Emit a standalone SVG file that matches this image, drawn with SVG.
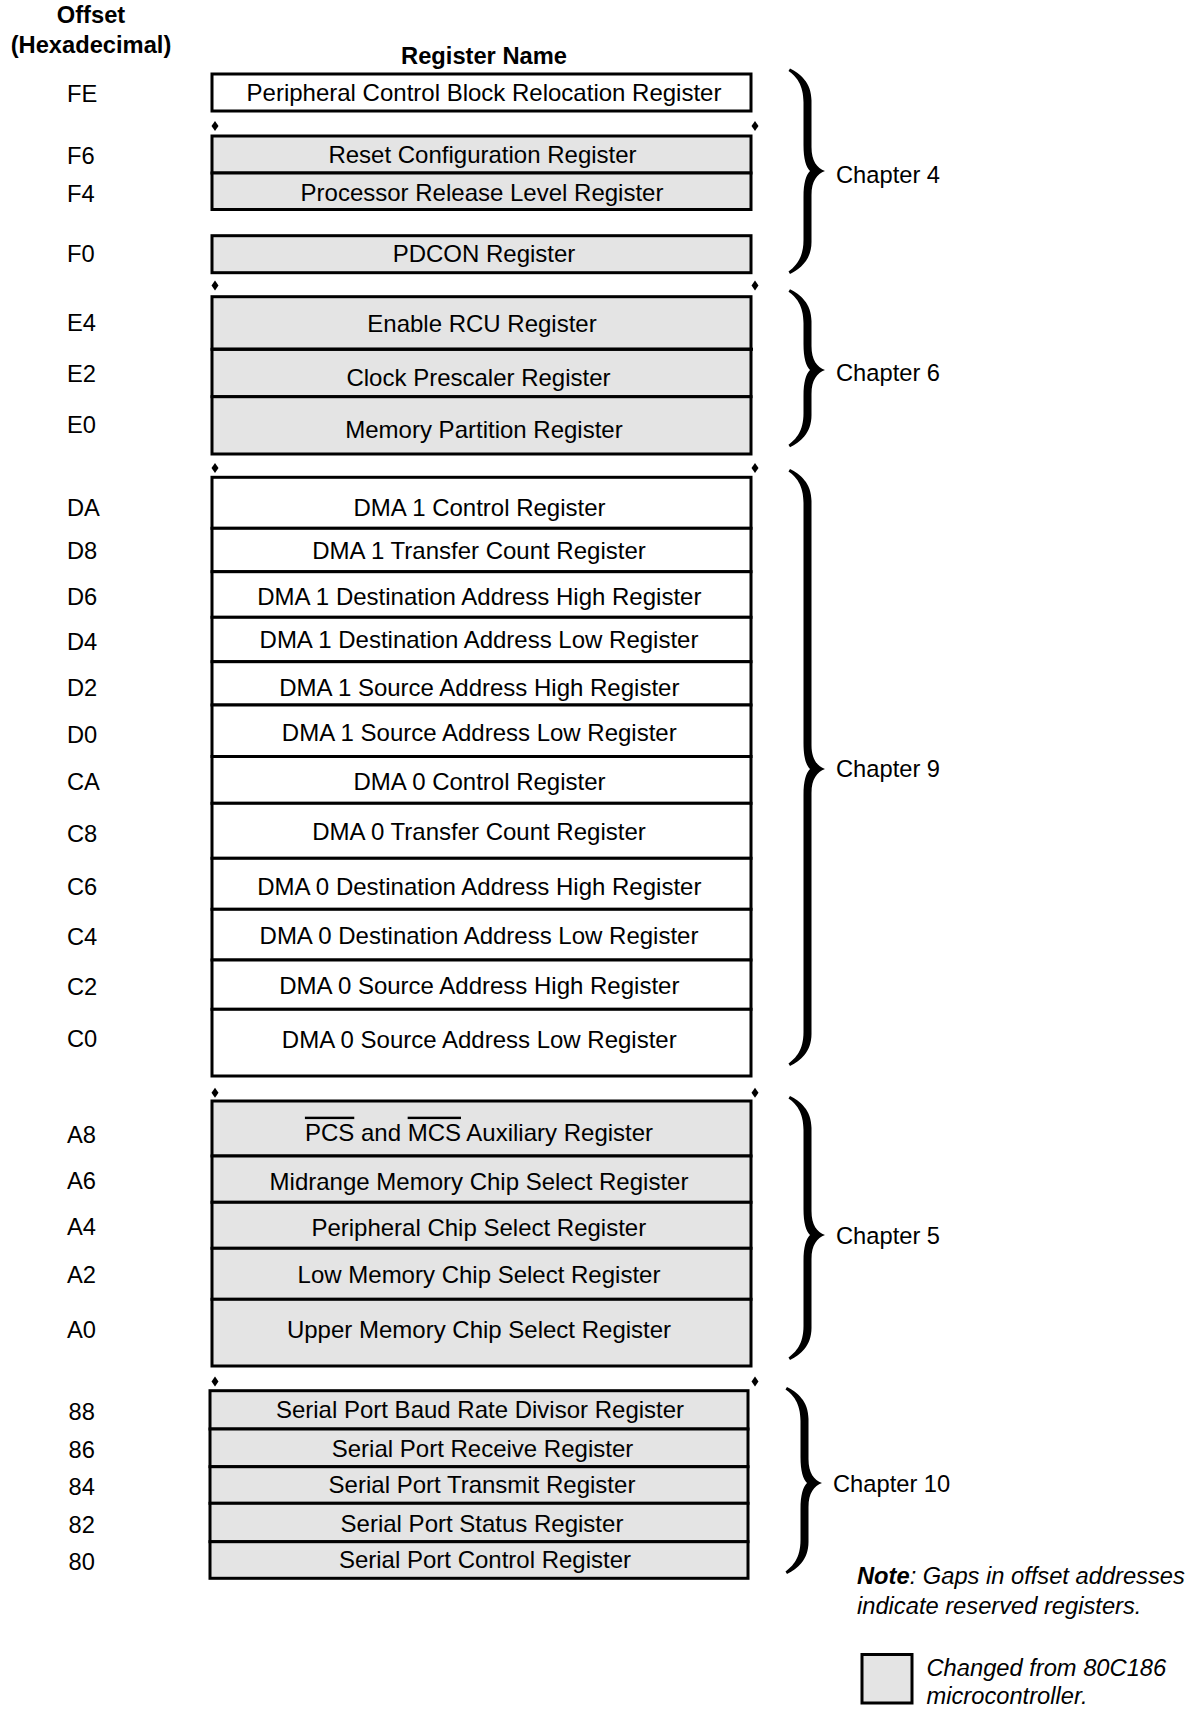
<svg xmlns="http://www.w3.org/2000/svg" width="1196" height="1710" viewBox="0 0 1196 1710">
<style>
.reg{stroke:#000;stroke-width:3}
.g{fill:#e4e4e4}
.w{fill:#fff}
text{font-family:"Liberation Sans",Arial,Helvetica,sans-serif;font-size:23.7px;fill:#000}
.r{font-size:24px}
.c{text-anchor:middle}
.b{font-weight:bold}
.i{font-style:italic}
.ov{text-decoration:overline}
.brace{fill:#000}
.dot{fill:#000}
</style>
<defs>
<path id="dia" d="M0,-5 L3.5,0 L0,5 L-3.5,0 Z"/>
</defs>
<rect x="0" y="0" width="1196" height="1710" fill="#fff"/>

<g id="headings">
<text class="b c" x="91" y="23">Offset</text>
<text class="b c" x="91" y="53">(Hexadecimal)</text>
<text class="b c" x="484" y="63.5">Register Name</text>
</g>

<!-- Chapter 4 block -->
<g id="reg-FE"><rect class="reg w" x="212" y="74" width="539" height="37"/><text class="c r" x="484" y="101">Peripheral Control Block Relocation Register</text><text x="67" y="101.5">FE</text></g>
<g id="reg-F6"><rect class="reg g" x="212" y="136" width="539" height="37"/><text class="c r" x="482.5" y="162.7">Reset Configuration Register</text><text x="67" y="164">F6</text></g>
<g id="reg-F4"><rect class="reg g" x="212" y="173" width="539" height="36.5"/><text class="c r" x="482" y="201">Processor Release Level Register</text><text x="67" y="201.5">F4</text></g>
<g id="reg-F0"><rect class="reg g" x="212" y="235.7" width="539" height="37"/><text class="c r" x="484" y="262">PDCON Register</text><text x="67" y="262">F0</text></g>

<!-- Chapter 6 block -->
<g id="reg-E4"><rect class="reg g" x="212" y="296.7" width="539" height="52.6"/><text class="c r" x="482" y="331.7">Enable RCU Register</text><text x="67" y="331">E4</text></g>
<g id="reg-E2"><rect class="reg g" x="212" y="349.3" width="539" height="47.4"/><line x1="212" y1="349.3" x2="753" y2="349.3" stroke="#000" stroke-width="3"/><text class="c r" x="478.5" y="386">Clock Prescaler Register</text><text x="67" y="382.4">E2</text></g>
<g id="reg-E0"><rect class="reg g" x="212" y="396.7" width="539" height="57.3"/><text class="c r" x="484" y="437.7">Memory Partition Register</text><text x="67" y="432.6">E0</text></g>

<!-- Chapter 9 block -->
<g id="reg-DA"><rect class="reg w" x="212" y="477.3" width="539" height="51"/><text class="c r" x="479.5" y="516">DMA 1 Control Register</text><text x="67" y="516">DA</text></g>
<g id="reg-D8"><rect class="reg w" x="212" y="528.3" width="539" height="43.4"/><text class="c r" x="479" y="559">DMA 1 Transfer Count Register</text><text x="67" y="559">D8</text></g>
<g id="reg-D6"><rect class="reg w" x="212" y="571.7" width="539" height="45.6"/><text class="c r" x="479.3" y="605">DMA 1 Destination Address High Register</text><text x="67" y="605">D6</text></g>
<g id="reg-D4"><rect class="reg w" x="212" y="617.3" width="539" height="44.4"/><text class="c r" x="479" y="648">DMA 1 Destination Address Low Register</text><text x="67" y="650">D4</text></g>
<g id="reg-D2"><rect class="reg w" x="212" y="661.7" width="539" height="43.3"/><text class="c r" x="479.3" y="696">DMA 1 Source Address High Register</text><text x="67" y="696">D2</text></g>
<g id="reg-D0"><rect class="reg w" x="212" y="705" width="539" height="51.5"/><text class="c r" x="479.3" y="741">DMA 1 Source Address Low Register</text><text x="67" y="743">D0</text></g>
<g id="reg-CA"><rect class="reg w" x="212" y="756.5" width="539" height="46.8"/><text class="c r" x="479.5" y="790">DMA 0 Control Register</text><text x="67" y="790">CA</text></g>
<g id="reg-C8"><rect class="reg w" x="212" y="803.3" width="539" height="55"/><text class="c r" x="479" y="840">DMA 0 Transfer Count Register</text><text x="67" y="841.7">C8</text></g>
<g id="reg-C6"><rect class="reg w" x="212" y="858.3" width="539" height="51"/><text class="c r" x="479.3" y="895">DMA 0 Destination Address High Register</text><text x="67" y="895">C6</text></g>
<g id="reg-C4"><rect class="reg w" x="212" y="909.3" width="539" height="50.7"/><text class="c r" x="479" y="944">DMA 0 Destination Address Low Register</text><text x="67" y="945">C4</text></g>
<g id="reg-C2"><rect class="reg w" x="212" y="960" width="539" height="49.3"/><text class="c r" x="479.3" y="994">DMA 0 Source Address High Register</text><text x="67" y="995">C2</text></g>
<g id="reg-C0"><rect class="reg w" x="212" y="1009.3" width="539" height="66.7"/><text class="c r" x="479.3" y="1048">DMA 0 Source Address Low Register</text><text x="67" y="1046.7">C0</text></g>

<!-- Chapter 5 block -->
<g id="reg-A8"><rect class="reg g" x="212" y="1101" width="539" height="55"/><text class="c r" x="479" y="1140.7"><tspan class="ov">PCS</tspan> and <tspan class="ov">MCS</tspan> Auxiliary Register</text><text x="67" y="1142.7">A8</text></g>
<g id="reg-A6"><rect class="reg g" x="212" y="1156" width="539" height="46.3"/><text class="c r" x="479" y="1190">Midrange Memory Chip Select Register</text><text x="67" y="1189">A6</text></g>
<g id="reg-A4"><rect class="reg g" x="212" y="1202.3" width="539" height="46"/><text class="c r" x="478.8" y="1236">Peripheral Chip Select Register</text><text x="67" y="1235">A4</text></g>
<g id="reg-A2"><rect class="reg g" x="212" y="1248.3" width="539" height="51"/><text class="c r" x="479" y="1283">Low Memory Chip Select Register</text><text x="67" y="1283">A2</text></g>
<g id="reg-A0"><rect class="reg g" x="212" y="1299.3" width="539" height="66.7"/><text class="c r" x="479" y="1338">Upper Memory Chip Select Register</text><text x="67" y="1338">A0</text></g>

<!-- Chapter 10 block -->
<g id="reg-88"><rect class="reg g" x="210" y="1390.7" width="538" height="38.3"/><text class="c r" x="480" y="1418.3">Serial Port Baud Rate Divisor Register</text><text x="68.5" y="1420">88</text></g>
<g id="reg-86"><rect class="reg g" x="210" y="1429" width="538" height="37.7"/><text class="c r" x="482.5" y="1456.7">Serial Port Receive Register</text><text x="68.5" y="1458">86</text></g>
<g id="reg-84"><rect class="reg g" x="210" y="1466.7" width="538" height="36.6"/><text class="c r" x="482" y="1493">Serial Port Transmit Register</text><text x="68.5" y="1495">84</text></g>
<g id="reg-82"><rect class="reg g" x="210" y="1503.3" width="538" height="38.4"/><text class="c r" x="482" y="1531.7">Serial Port Status Register</text><text x="68.5" y="1533">82</text></g>
<g id="reg-80"><rect class="reg g" x="210" y="1541.7" width="538" height="36.6"/><text class="c r" x="485" y="1568.3">Serial Port Control Register</text><text x="68.5" y="1570">80</text></g>

<!-- gap markers -->
<g id="gap-markers" class="dot">
<use href="#dia" x="215" y="126"/><use href="#dia" x="755" y="126"/>
<use href="#dia" x="215" y="285.5"/><use href="#dia" x="755" y="285.5"/>
<use href="#dia" x="215" y="468"/><use href="#dia" x="755" y="468"/>
<use href="#dia" x="215" y="1092.7"/><use href="#dia" x="755" y="1092.7"/>
<use href="#dia" x="215" y="1381.5"/><use href="#dia" x="755" y="1381.5"/>
</g>

<!-- braces -->
<g id="connectors" class="brace">
<path d="M790,68.5 C800,73.5 811.5,82.5 811.5,100.5 L811.5,147 C811.5,161 817,168 825,171 C817,174 811.5,181 811.5,195 L811.5,242 C811.5,260 800,269 790,274 L788.5,271.5 C796,266 803.5,258 803.5,240 L803.5,197 C803.5,183 806,175 810,171 C806,167 803.5,159 803.5,145 L803.5,102.5 C803.5,84.5 796,76 788.5,71 Z"/>
<path d="M790,289.3 C800,294.3 811.5,303.3 811.5,321.3 L811.5,346 C811.5,360 817,367 825,370 C817,373 811.5,380 811.5,394 L811.5,415.3 C811.5,433.3 800,442.3 790,447.3 L788.5,444.8 C796,439.3 803.5,431.3 803.5,413.3 L803.5,396 C803.5,382 806,374 810,370 C806,366 803.5,358 803.5,344 L803.5,323.3 C803.5,305.3 796,296.8 788.5,291.8 Z"/>
<path d="M790,469 C800,474 811.5,483 811.5,501 L811.5,745 C811.5,759 817,766 825,769 C817,772 811.5,779 811.5,793 L811.5,1034 C811.5,1052 800,1061 790,1066 L788.5,1063.5 C796,1058 803.5,1050 803.5,1032 L803.5,795 C803.5,781 806,773 810,769 C806,765 803.5,757 803.5,743 L803.5,503 C803.5,485 796,476.5 788.5,471.5 Z"/>
<path d="M790,1096 C800,1101 811.5,1110 811.5,1128 L811.5,1211 C811.5,1225 817,1232 825,1235 C817,1238 811.5,1245 811.5,1259 L811.5,1328 C811.5,1346 800,1355 790,1360 L788.5,1357.5 C796,1352 803.5,1344 803.5,1326 L803.5,1261 C803.5,1247 806,1239 810,1235 C806,1231 803.5,1223 803.5,1209 L803.5,1130 C803.5,1112 796,1103.5 788.5,1098.5 Z"/>
<path d="M787,1387 C797,1392 808.5,1401 808.5,1419 L808.5,1459 C808.5,1473 814,1480 822,1483 C814,1486 808.5,1493 808.5,1507 L808.5,1542 C808.5,1560 797,1569 787,1574 L785.5,1571.5 C793,1566 800.5,1558 800.5,1540 L800.5,1509 C800.5,1495 803,1487 807,1483 C803,1479 800.5,1471 800.5,1457 L800.5,1421 C800.5,1403 793,1394.5 785.5,1389.5 Z"/>
</g>

<g id="chapters">
<text x="836" y="183">Chapter 4</text>
<text x="836" y="381">Chapter 6</text>
<text x="836" y="777">Chapter 9</text>
<text x="836" y="1243.5">Chapter 5</text>
<text x="833" y="1491.5">Chapter 10</text>
</g>

<g id="note">
<text class="i" x="857" y="1583.5"><tspan class="b">Note</tspan>: Gaps in offset addresses</text>
<text class="i" x="857" y="1613.5">indicate reserved registers.</text>
</g>

<g id="legend">
<rect class="reg g" x="862" y="1654.5" width="50" height="48.5"/>
<text class="i" x="926.5" y="1676">Changed from 80C186</text>
<text class="i" x="926.5" y="1704">microcontroller.</text>
</g>
</svg>
